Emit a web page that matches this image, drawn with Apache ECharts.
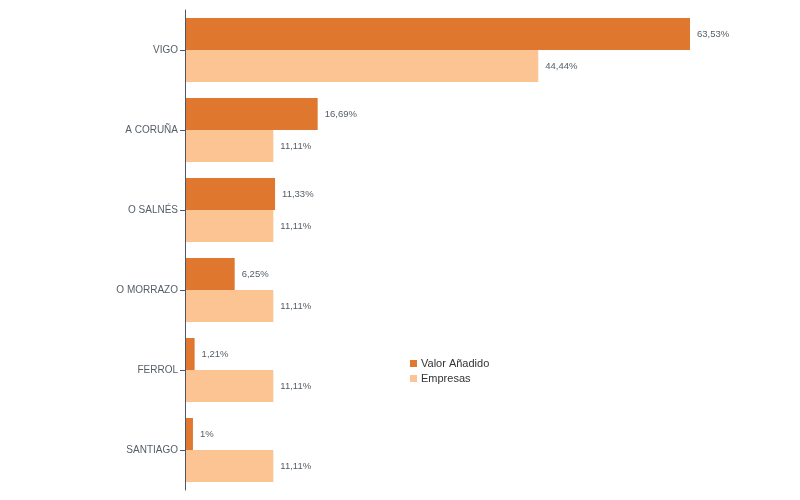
<!DOCTYPE html>
<html>
<head>
<meta charset="utf-8">
<script src="https://cdn.jsdelivr.net/npm/echarts@6/dist/echarts.min.js"></script>
<style>html,body{margin:0;padding:0;background:#fff}#c{width:800px;height:500px}</style>
</head>
<body>
<div id="c"></div>
<script>
const categories = ["VIGO", "A CORUÑA", "O SALNÉS", "O MORRAZO", "FERROL", "SANTIAGO"];
const valorAnadido = [63.53, 16.69, 11.33, 6.25, 1.21, 1];
const empresas = [44.44, 11.11, 11.11, 11.11, 11.11, 11.11];
const seriesNames = ["Valor Añadido", "Empresas"];

const fmt = p => String(p.value).replace('.', ',') + '%';
const chart = echarts.init(document.getElementById('c'));
chart.setOption({
  animation: false,
  textStyle: { fontFamily: 'Arial, "Liberation Sans", sans-serif' },
  grid: { left: 185, right: 110, top: 10, bottom: 10, containLabel: false },
  legend: {
    orient: 'vertical', left: 405, top: 353,
    itemWidth: 7, itemHeight: 7, itemGap: 4, icon: 'rect',
    textStyle: { color: '#333', fontSize: 11, padding: [0, 0, 0, -1] },
    data: seriesNames
  },
  xAxis: { type: 'value', min: 0, max: 63.53, show: false },
  yAxis: {
    type: 'category', data: categories, inverse: true, z: 5,
    axisLine: { show: true, lineStyle: { color: '#4d5663', width: 1 } },
    axisTick: { show: true, alignWithLabel: true, length: 5, lineStyle: { color: '#4d5663', width: 1 } },
    axisLabel: { color: '#555d66', fontSize: 10, margin: 7 }
  },
  series: [
    {
      name: seriesNames[0], type: 'bar', data: valorAnadido,
      itemStyle: { color: '#DF782E' }, barGap: '0%', barCategoryGap: '20%',
      label: { show: true, position: 'right', distance: 7, color: '#555d66', fontSize: 9.5, formatter: fmt }
    },
    {
      name: seriesNames[1], type: 'bar', data: empresas,
      itemStyle: { color: '#FCC393' }, barGap: '0%', barCategoryGap: '20%',
      label: { show: true, position: 'right', distance: 7, color: '#555d66', fontSize: 9.5, formatter: fmt }
    }
  ]
});
</script>
</body>
</html>
